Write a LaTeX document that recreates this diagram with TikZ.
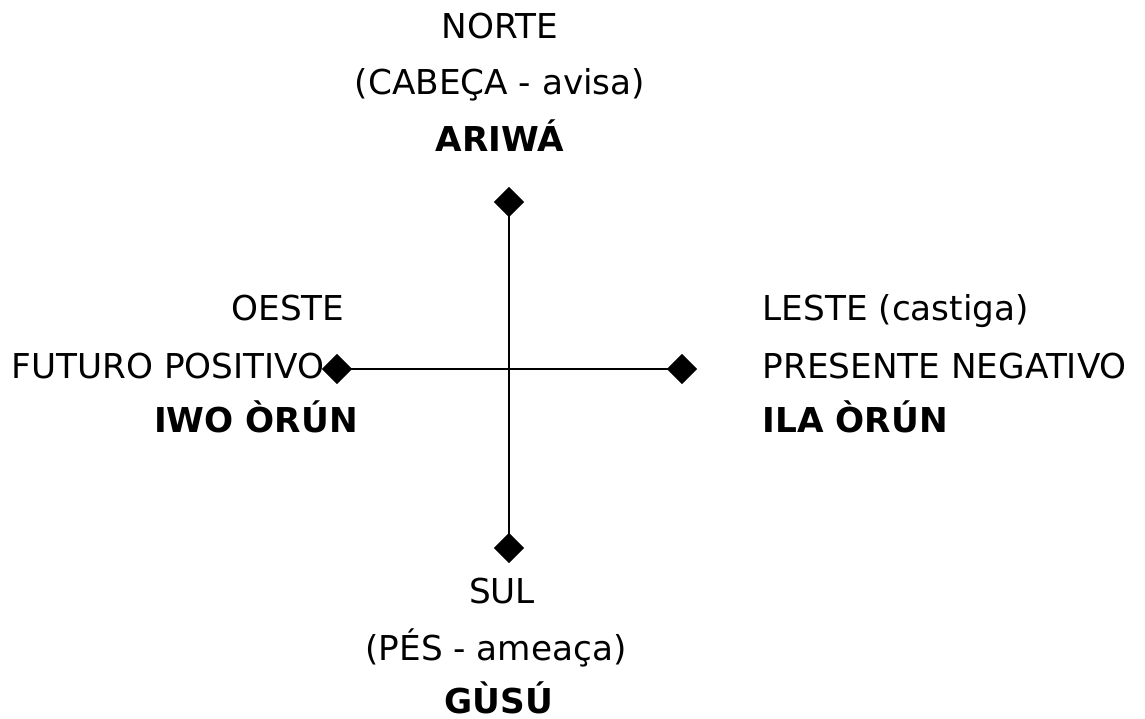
\documentclass[tikz,border=0pt]{standalone}
\usepackage{fontspec}
\setmainfont{DejaVu Sans}
\usetikzlibrary{shapes.geometric}
\tikzset{
  tip/.style={diamond, fill=black, inner sep=0pt, minimum size=0.31cm},
  label/.style={inner sep=0pt, font=\fontsize{9.75}{12}\selectfont}
}
\begin{document}
\begin{tikzpicture}
\useasboundingbox (0,0) rectangle (11.45,7.18);
% ends of the cross
\node[tip] (north) at (5.09,5.16) {};
\node[tip] (south) at (5.09,1.70) {};
\node[tip] (west) at (3.37,3.49) {};
\node[tip] (east) at (6.82,3.49) {};
\draw[line width=0.6pt] (north.center) -- (south.center);
\draw[line width=0.6pt] (west.center) -- (east.center);
% north
\node[label, anchor=base] (norte) at (5.00,6.80) {NORTE};
\node[label, anchor=base] (cabeca) at (5.00,6.23) {(CABEÇA - avisa)};
\node[label, anchor=base] (ariwa) at (5.00,5.67) {\bfseries ARIWÁ};
% west
\node[label, anchor=base] (oeste) at (2.88,3.98) {OESTE};
\node[label, anchor=base] (futuro) at (1.68,3.40) {FUTURO POSITIVO};
\node[label, anchor=base] (iwo) at (2.56,2.85) {\bfseries IWO ÒRÚN};
% east
\node[label, anchor=base west] (leste) at (7.62,3.98) {LESTE (castiga)};
\node[label, anchor=base west] (presente) at (7.62,3.40) {PRESENTE NEGATIVO};
\node[label, anchor=base west] (ila) at (7.62,2.85) {\bfseries ILA ÒRÚN};
% south
\node[label, anchor=base] (sul) at (5.02,1.15) {SUL};
\node[label, anchor=base] (pes) at (4.96,0.58) {(PÉS - ameaça)};
\node[label, anchor=base] (gusu) at (4.99,0.05) {\bfseries GÙSÚ};
\end{tikzpicture}
\end{document}
